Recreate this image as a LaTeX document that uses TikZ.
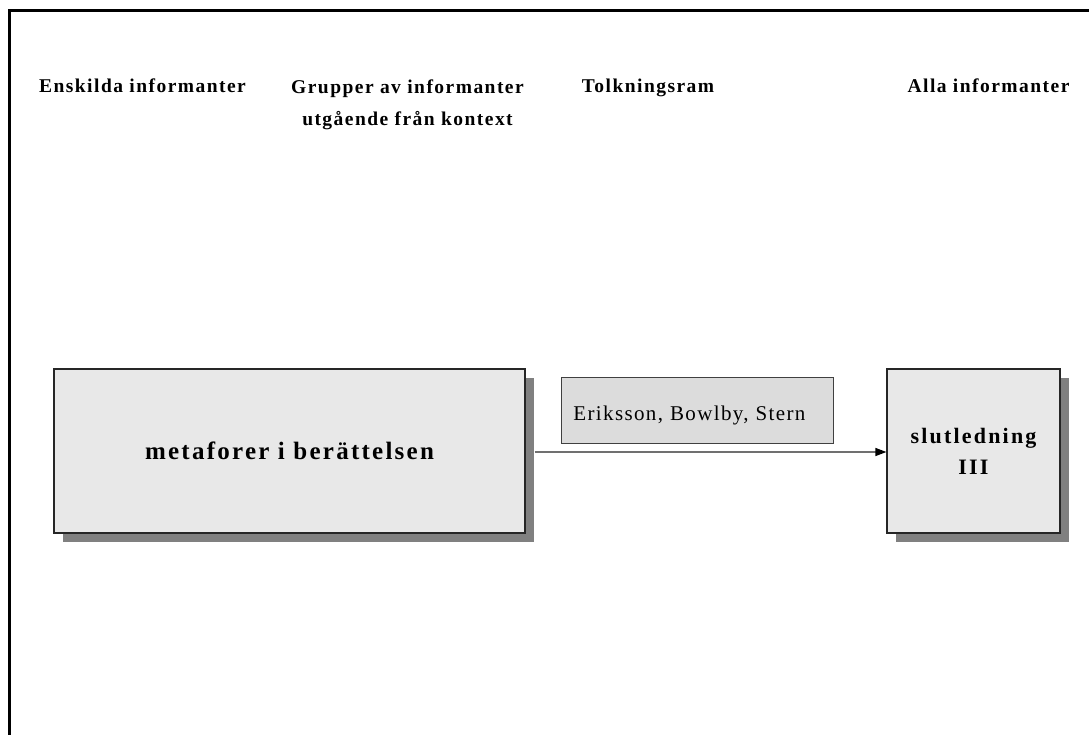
\documentclass[tikz,border=0pt]{standalone}
\usepackage{fontspec}
\setmainfont{Liberation Serif}
\usetikzlibrary{shadows,arrows.meta}

\definecolor{boxfill}{HTML}{E8E8E8}
\definecolor{notefill}{HTML}{DCDCDC}
\definecolor{shadowgray}{HTML}{808080}
\definecolor{linegray}{HTML}{707070}

\begin{document}
\begin{tikzpicture}[x=1bp,y=-1bp,
  heading/.style={anchor=base, font=\fontsize{19.5bp}{32bp}\selectfont\bfseries\addfontfeatures{LetterSpace=7.5}, inner sep=0pt},
  mainbox/.style={draw=black!85, line width=1.2bp, fill=boxfill, inner sep=0pt,
    drop shadow={shadow xshift=9bp, shadow yshift=-9bp, fill=shadowgray, opacity=1}},
  notebox/.style={draw=black!75, line width=0.8bp, fill=notefill, inner xsep=12bp, inner ysep=0pt,
    font=\fontsize{21bp}{25bp}\selectfont\addfontfeatures{LetterSpace=6.5}},
  flow/.style={draw=linegray, line width=1.3bp, -{Triangle[length=11bp,width=8bp,fill=black,color=black]}}]

  % page extent
  \useasboundingbox (0,0) rectangle (1089,735);

  % outer frame, open towards the right and bottom edges
  \draw[line width=3bp] (9.5,740) |- (1095,11);

  % column headings
  \node[heading] (h1) at (142.5,92.5) {Enskilda informanter};
  \node[heading, anchor=center, align=center] (h2) at (407.5,104.5) {Grupper av informanter\\utgående från kontext};
  \node[heading] (h3) at (648,92.5) {Tolkningsram};
  \node[heading] (h4) at (988.5,92.5) {Alla informanter};

  % boxes
  \node[mainbox, minimum width=471bp, minimum height=164bp,
        font=\fontsize{25bp}{30bp}\selectfont\bfseries\addfontfeatures{LetterSpace=9}]
        (meta) at (289.5,451) {metaforer i berättelsen};
  \node[mainbox, minimum width=173bp, minimum height=164bp, align=center,
        font=\fontsize{22bp}{31bp}\selectfont\bfseries\addfontfeatures{LetterSpace=10}]
        (concl) at (973.5,451) {slutledning\\III};
  \node[notebox, anchor=west, text width=248bp, align=left, minimum height=66bp,
        text height=20bp, text depth=0bp]
        (frame) at (561,410) {Eriksson, Bowlby, Stern};

  % connector from the shadowed edge of the first box
  \coordinate (start) at ([xshift=9bp,yshift=-1bp]meta.east);
  \draw[flow] (start) -- (start -| concl.west);
\end{tikzpicture}
\end{document}
